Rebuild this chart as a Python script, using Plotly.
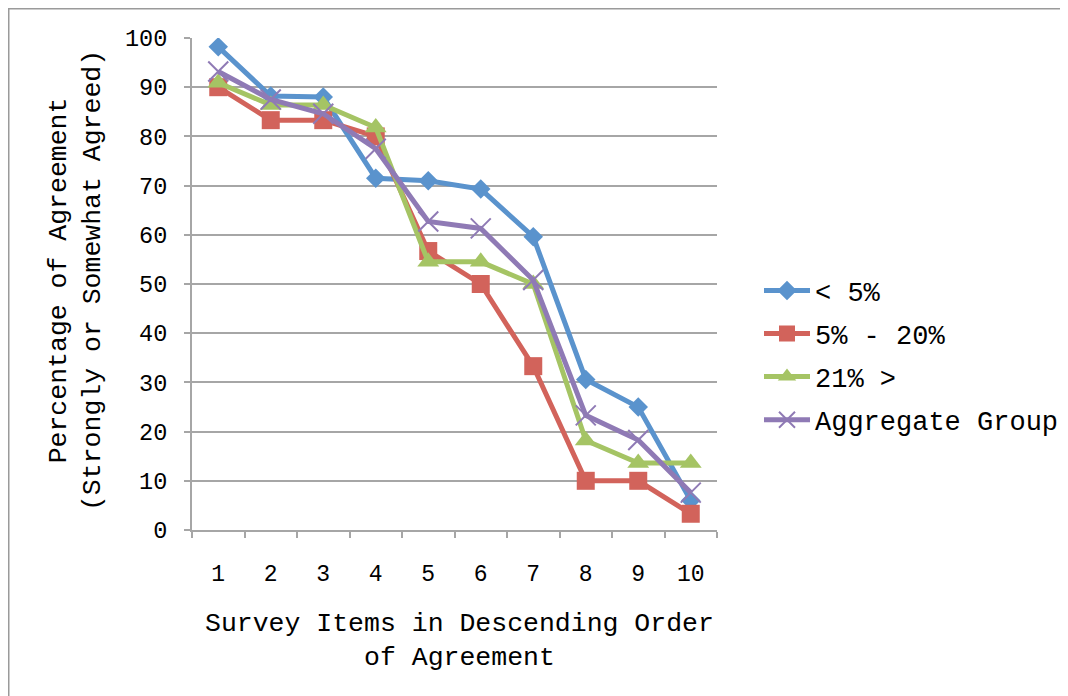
import plotly.graph_objects as go

items = ["1", "2", "3", "4", "5", "6", "7", "8", "9", "10"]
series_names = ["< 5%", "5% - 20%", "21% >", "Aggregate Group"]
lt5 = [98.2, 88.2, 88.0, 71.5, 71.0, 69.3, 59.6, 30.6, 25.0, 6.0]
mid = [90.0, 83.3, 83.3, 80.0, 56.7, 50.0, 33.3, 10.0, 10.0, 3.3]
gt21 = [90.9, 86.4, 86.4, 81.8, 54.5, 54.5, 50.0, 18.2, 13.6, 13.6]
agg = [93.2, 87.5, 84.6, 77.5, 62.7, 61.3, 50.8, 23.3, 18.3, 7.6]
y_ticks = [0, 10, 20, 30, 40, 50, 60, 70, 80, 90, 100]

colors = ["#5A93CD", "#D2635B", "#A5C464", "#8F7AB5"]
symbols = ["diamond", "square", "triangle-up", "x-thin"]
sizes = [15, 18, 19, 20]
values = [lt5, mid, gt21, agg]

FONT = "Liberation Mono, Courier New, monospace"
GRID = "#A6A6A6"

# page has an 8px body margin, so the figure is drawn starting at (8, 8)
fig = go.Figure()
for i, (name, vals) in enumerate(zip(series_names, values)):
    marker = dict(symbol=symbols[i], size=sizes[i], color=colors[i])
    if symbols[i] == "x-thin":
        marker["line"] = dict(color=colors[i], width=2)
    fig.add_trace(go.Scatter(
        x=items, y=vals, name=name, mode="lines+markers",
        line=dict(color=colors[i], width=5),
        marker=marker, legendgroup=f"g{i}",
    ))

fig.update_layout(
    width=1060, height=688,
    margin=dict(l=184, r=351, t=30, b=166, autoexpand=False),
    paper_bgcolor="white", plot_bgcolor="white",
    font=dict(family=FONT, color="black", size=23),
    showlegend=True,
    legend=dict(
        x=1.080, y=0.355, xanchor="left", yanchor="middle",
        font=dict(family=FONT, size=27, color="black"),
        tracegroupgap=5, bgcolor="rgba(0,0,0,0)",
        itemwidth=46,
    ),
    xaxis=dict(
        type="category", range=[-0.5, 9.5],
        showline=True, linecolor=GRID, linewidth=2,
        ticks="outside", tickson="boundaries", ticklen=6, tickcolor=GRID, tickwidth=2,
        showgrid=False, zeroline=False,
        tickfont=dict(family=FONT, size=23, color="black"),
        ticklabelstandoff=21,
    ),
    yaxis=dict(
        range=[0, 100], tickvals=y_ticks,
        showline=True, linecolor=GRID, linewidth=2,
        ticks="outside", ticklen=6, tickcolor=GRID, tickwidth=2,
        showgrid=True, gridcolor=GRID, gridwidth=2,
        zeroline=False,
        tickfont=dict(family=FONT, size=23.5, color="black"),
        ticklabelstandoff=12,
    ),
    annotations=[
        dict(text="Survey Items in Descending Order<br>of Agreement",
             xref="paper", yref="paper", x=0.51, y=-0.2256,
             xanchor="center", yanchor="middle", showarrow=False,
             font=dict(family=FONT, size=26.5, color="black")),
        dict(text="Percentage of Agreement<br>(Strongly or Somewhat Agreed)",
             xref="paper", yref="paper", x=-0.221, y=0.508,
             xanchor="center", yanchor="middle", showarrow=False, textangle=-90,
             font=dict(family=FONT, size=26.5, color="black")),
    ],
    shapes=[
        dict(type="rect", xref="paper", yref="paper",
             x0=(8.5 - 192) / 525, x1=(1100 - 192) / 525,
             y0=(530 - 720) / 492, y1=(530 - 8.5) / 492,
             line=dict(color="#9A9A9A", width=2), layer="below"),
    ],
)

fig.write_html("out.html")
